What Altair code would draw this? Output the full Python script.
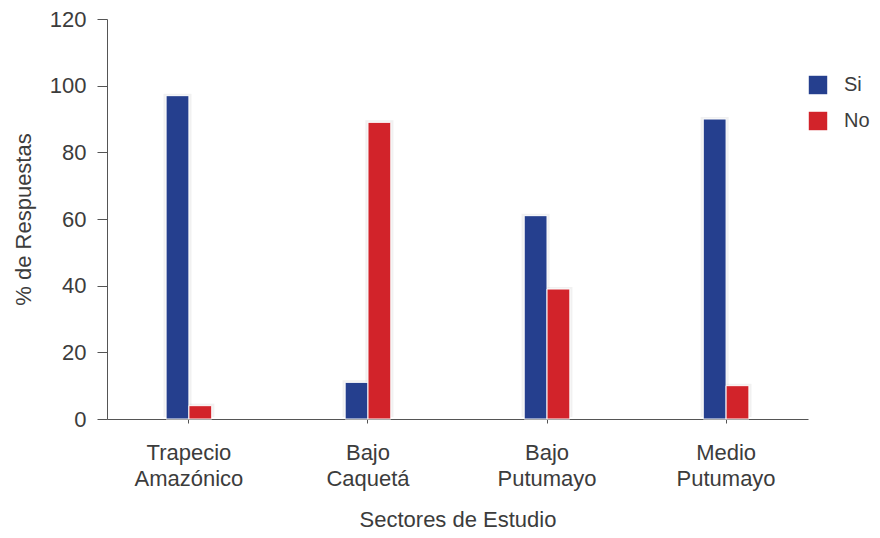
import altair as alt
import pandas as pd

sectores = ["Trapecio Amazónico", "Bajo Caquetá", "Bajo Putumayo", "Medio Putumayo"]
respuestas = ["Si", "No"]
si_vals = [97, 11, 61, 90]
no_vals = [4, 89, 39, 10]
colores = ["#253f8e", "#d2232a"]

rows = []
for s, a, b in zip(sectores, si_vals, no_vals):
    rows.append({"sector": s, "resp": "Si", "valor": a})
    rows.append({"sector": s, "resp": "No", "valor": b})
df = pd.DataFrame(rows)

FONT = "Liberation Sans"
TXT = "#3c3c3c"
FS = 22

x = alt.X("sector:N", sort=sectores, title="Sectores de Estudio",
          scale=alt.Scale(paddingInner=0.745, paddingOuter=0.33),
          axis=alt.Axis(labelExpr="split(datum.label, ' ')", labelAngle=0,
                        labelFontSize=FS, labelColor=TXT, labelFont=FONT,
                        labelPadding=19, labelLineHeight=26,
                        titleFontSize=FS, titleColor=TXT, titleFont=FONT,
                        titleFontWeight="normal", titlePadding=20,
                        domainColor="#555555", tickSize=4, tickColor="#555555",
                        grid=False))
y = alt.Y("valor:Q", title="% de Respuestas",
          scale=alt.Scale(domain=[0, 120]),
          axis=alt.Axis(values=[0, 20, 40, 60, 80, 100, 120], tickSize=10,
                        labelFontSize=FS, labelColor=TXT, labelFont=FONT,
                        labelPadding=11, titleFontSize=FS, titleColor=TXT,
                        titleFont=FONT, titleFontWeight="normal", titlePadding=14,
                        domainColor="#555555", tickColor="#555555", grid=False))
xoff = alt.XOffset("resp:N", sort=respuestas,
                   scale=alt.Scale(paddingInner=0, paddingOuter=0))

shadow = alt.Chart(df).mark_bar(color="#888888", opacity=0.12, xOffset=4, yOffset=-2,
                                 width=28).encode(x=x, y=y, xOffset=xoff)
bars = alt.Chart(df).mark_bar(stroke="white", strokeWidth=1).encode(
    x=x, y=y, xOffset=xoff,
    color=alt.Color("resp:N", sort=respuestas,
                    scale=alt.Scale(domain=respuestas, range=colores),
                    legend=alt.Legend(title=None, orient="none", legendX=701, legendY=56,
                                      symbolType="square", symbolSize=340,
                                      symbolStrokeWidth=0, labelFontSize=20,
                                      labelColor=TXT, labelFont=FONT, labelOffset=16,
                                      rowPadding=16)),
)

chart = alt.layer(shadow, bars).properties(
    width=701, height=400,
    padding={"left": 99, "top": 11, "right": 64, "bottom": 111},
    autosize=alt.AutoSizeParams(type="none"),
).configure_view(stroke=None)

chart.save("out.html", embed_options={"renderer": "svg", "actions": False})
